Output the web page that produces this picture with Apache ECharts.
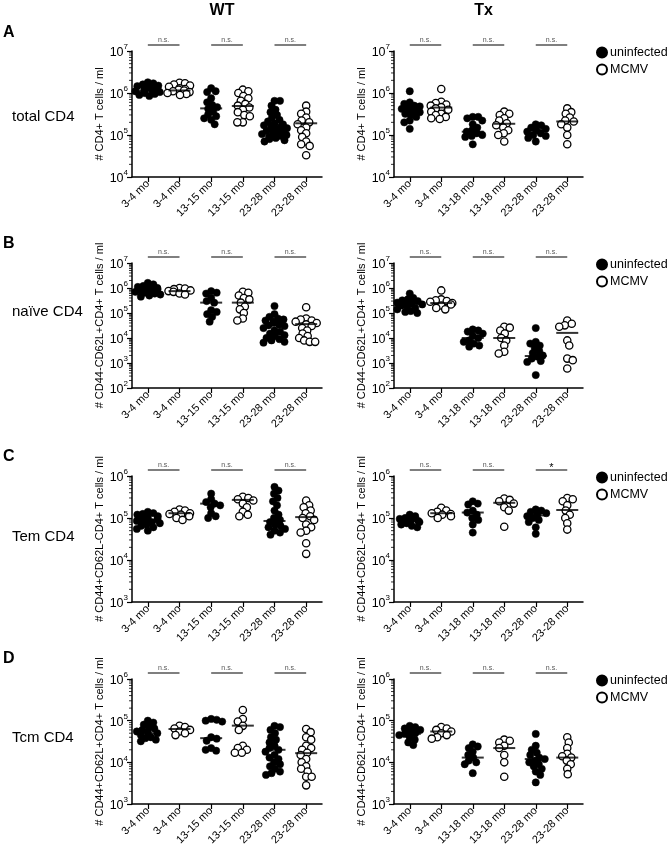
<!DOCTYPE html>
<html><head><meta charset="utf-8">
<script src="https://cdn.jsdelivr.net/npm/echarts@6/dist/echarts.min.js"></script>
<style>html,body{margin:0;padding:0;background:#fff}#c{width:670px;height:851px}</style>
</head><body><div id="c"></div><script>
// ---------- categories / labels ----------
const catsWT = ['3-4 mo','3-4 mo','13-15 mo','13-15 mo','23-28 mo','23-28 mo'];
const catsTx = ['3-4 mo','3-4 mo','13-18 mo','13-18 mo','23-28 mo','23-28 mo'];
const columnTitles = ['WT','Tx'];
const panelLetters = ['A','B','C','D'];
const rowLabels = ['total CD4','naïve CD4','Tem CD4','Tcm CD4'];
const yAxisNames = ['# CD4+ T cells / ml','# CD44-CD62L+CD4+ T cells / ml','# CD44+CD62L-CD4+ T cells / ml','# CD44+CD62L+CD4+ T cells / ml'];
const yMinExp = [4,2,3,3];
const yMaxExp = [7,7,6,6];
const sigWT = [['n.s.','n.s.','n.s.'],['n.s.','n.s.','n.s.'],['n.s.','n.s.','n.s.'],['n.s.','n.s.','n.s.']];
const sigTx = [['n.s.','n.s.','n.s.'],['n.s.','n.s.','n.s.'],['n.s.','n.s.','*'],['n.s.','n.s.','n.s.']];
const legendNames = ['uninfected','MCMV'];

// ---------- data (groups: 3-4 uninf, 3-4 MCMV, mid uninf, mid MCMV, old uninf, old MCMV) ----------
const totalWT = [
 [1.8e6,1.7e6,1.6e6,1.5e6,1.45e6,1.35e6,1.3e6,1.2e6,1.15e6,1.1e6,1.05e6,1.0e6,0.95e6,0.9e6,0.85e6],
 [1.75e6,1.7e6,1.6e6,1.5e6,1.4e6,1.3e6,1.25e6,1.2e6,1.15e6,1.1e6,1.05e6,1.0e6,0.95e6,0.9e6],
 [1.3e6,1.1e6,1.05e6,7.5e5,6e5,5.2e5,4.6e5,4.2e5,3.6e5,3.1e5,2.8e5,2.5e5,2.3e5,1.8e5],
 [1.2e6,1.1e6,1.0e6,8.5e5,7.5e5,6.5e5,5.5e5,5e5,4.5e5,4e5,3.5e5,3e5,2.8e5,2e5,2e5],
 [6.5e5,6.5e5,5e5,4e5,3.5e5,3e5,2.6e5,2.3e5,2.1e5,1.9e5,1.8e5,1.7e5,1.6e5,1.5e5,1.45e5,1.4e5,1.3e5,1.25e5,1.2e5,1.1e5,1.05e5,1e5,9.5e4,9e4,8.5e4,8e4,7.5e4,7e4],
 [5e5,3.6e5,3.2e5,2.6e5,2.2e5,2e5,1.8e5,1.5e5,1.3e5,1.1e5,9e4,7e4,6e4,5.5e4,3.3e4]
];
const totalWTMed = [1.12e6,1.15e6,4.3e5,4.9e5,1.75e5,1.9e5];
const totalTx = [
 [1.1e6,6e5,5.5e5,5e5,4.8e5,4.5e5,4.2e5,4e5,3.8e5,3.5e5,3.2e5,3e5,2.7e5,2.2e5,2e5,1.4e5],
 [1.25e6,6.2e5,5.8e5,5.3e5,5e5,4.6e5,4.3e5,4e5,3.6e5,3.2e5,3e5,2.7e5,2.5e5,2.4e5],
 [2.7e5,2.7e5,2.5e5,2.2e5,1.8e5,1.5e5,1.3e5,1.2e5,1.1e5,1.0e5,9.5e4,9e4,6e4],
 [3.6e5,3.2e5,3e5,2.5e5,2.2e5,1.9e5,1.7e5,1.5e5,1.3e5,1.1e5,1e5,7e4],
 [1.8e5,1.7e5,1.5e5,1.4e5,1.3e5,1.2e5,1.1e5,1e5,9.5e4,8.5e4,7e4],
 [4.3e5,3.5e5,3.2e5,2.6e5,2.2e5,2.1e5,1.8e5,1.5e5,1e5,6e4]
];
const totalTxMed = [4.2e5,4.5e5,1.2e5,1.85e5,1.3e5,2.1e5];
const naiveWT = [
 [1.6e6,1.4e6,1.2e6,1.1e6,1e6,9.5e5,9e5,8.5e5,8e5,7.5e5,7e5,6.5e5,6e5,5.5e5,5e5,4.5e5],
 [1e6,9.5e5,9e5,8e5,7.5e5,7e5,6e5,5.5e5],
 [7.5e5,6.5e5,6e5,4e5,3e5,2.6e5,1.3e5,1.1e5,9e4,7e4,4.5e4],
 [7e5,6.5e5,5e5,4e5,3.5e5,2.6e5,1.8e5,1.4e5,1e5,6e4,5e4],
 [1.9e5,9e4,7e4,6e4,5.5e4,5e4,4.5e4,4e4,3.5e4,3.2e4,3e4,2.5e4,2e4,1.8e4,1.5e4,1.3e4,1.2e4,1e4,9e3,8e3,7e3,6.5e3],
 [1.7e5,6e4,5.5e4,5e4,4.5e4,4e4,3.5e4,3e4,2.5e4,2e4,1.5e4,1.2e4,1e4,8e3,7e3,7e3]
];
const naiveWTMed = [8.5e5,7.5e5,2.6e5,2.6e5,3.4e4,3.6e4];
const naiveTx = [
 [6e5,4e5,3.5e5,3.2e5,3e5,2.8e5,2.6e5,2.4e5,2.2e5,2e5,1.8e5,1.6e5,1.4e5,1.2e5,1.1e5,1e5],
 [8e5,3.5e5,3.2e5,3e5,2.8e5,2.5e5,2.2e5,2e5,1.6e5,1.4e5],
 [2.2e4,2e4,1.8e4,1.5e4,1.2e4,1e4,8e3,7e3,6e3,5e3,4.5e3],
 [2.8e4,2.6e4,2e4,1.5e4,1e4,8e3,5e3,2.8e3,2.4e3],
 [2.5e4,7e3,6e3,5e3,4e3,3e3,2.5e3,2e3,1.8e3,1.5e3,1.2e3,1.1e3,3.3e2],
 [5e4,3.7e4,3.2e4,2.8e4,8e3,5e3,1.5e3,1.3e3,6e2]
];
const naiveTxMed = [2.35e5,2.5e5,1e4,1e4,1.9e3,1.6e4];
const temWT = [
 [1.4e5,1.3e5,1.25e5,1.2e5,1.1e5,1e5,9.5e4,9e4,8.5e4,8e4,7.5e4,7e4,6.5e4,6e4,5.5e4,5e4],
 [1.6e5,1.5e5,1.4e5,1.3e5,1.25e5,1.2e5,1.1e5,1e5,9e4],
 [3.8e5,2.8e5,2.4e5,2.2e5,2e5,1.8e5,1.3e5,1.1e5,1e5],
 [3.2e5,3e5,2.8e5,2.6e5,2.2e5,1.8e5,1.4e5,1.2e5,1.1e5],
 [5.5e5,4.5e5,3.8e5,3e5,2.5e5,2e5,1.5e5,1.2e5,1e5,9e4,8e4,7e4,6.5e4,6e4,5.5e4,5e4,4.5e4,4e4],
 [2.6e5,2e5,1.8e5,1.5e5,1.3e5,1.1e5,1e5,9e4,7e4,6e4,5e4,4.5e4,2.5e4,1.4e4]
];
const temWTMed = [7.9e4,1.3e5,2.2e5,2.7e5,8.5e4,1.05e5];
const temTx = [
 [1.2e5,1.1e5,1e5,9.5e4,9e4,8.5e4,8e4,7.5e4,7e4,6.5e4,6e4],
 [1.75e5,1.5e5,1.4e5,1.3e5,1.25e5,1.2e5,1.1e5,1e5],
 [2.5e5,2.2e5,2.1e5,1.5e5,1.35e5,1.2e5,1e5,9e4,7e4,4.5e4],
 [2.9e5,2.7e5,2.5e5,2.2e5,1.8e5,1.5e5,6.2e4],
 [1.6e5,1.5e5,1.4e5,1.3e5,1.2e5,1.1e5,1e5,9e4,8e4,6e4,4.2e4],
 [3e5,2.8e5,2.5e5,2e5,1.5e5,1.2e5,1e5,7.5e4,5.3e4]
];
const temTxMed = [8.5e4,1.3e5,1.35e5,2.3e5,1.15e5,1.55e5];
const tcmWT = [
 [1e5,9e4,8e4,7e4,6.5e4,6e4,5.5e4,5.2e4,5e4,4.5e4,4e4,3.8e4,3.5e4,3.2e4],
 [7.5e4,7e4,6.5e4,6e4,5.5e4,5e4,4.5e4],
 [1.1e5,1.05e5,1e5,9.5e4,4e4,3.7e4,3.3e4,2.2e4,2e4,1.9e4],
 [1.8e5,1.1e5,9.5e4,7.5e4,6e4,2.5e4,2.2e4,2e4,1.7e4,1.7e4],
 [7.5e4,7e4,6e4,5e4,4e4,3.5e4,3e4,2.5e4,2.2e4,2e4,1.8e4,1.5e4,1.3e4,1.2e4,1e4,9e3,8e3,7e3,6e3,5.5e3,5e3],
 [6.3e4,5.3e4,4e4,3.5e4,2.5e4,2.2e4,2e4,1.7e4,1.5e4,1.2e4,1e4,8e3,7e3,6e3,4.5e3,4.5e3,2.8e3]
];
const tcmWTMed = [5e4,6.3e4,3.8e4,7.6e4,2e4,1.66e4];
const tcmTx = [
 [7.5e4,7e4,6.5e4,6e4,5.5e4,5e4,4.8e4,4.5e4,4e4,3.5e4,3e4,2.6e4],
 [7e4,6.5e4,6e4,5.5e4,5e4,4.5e4,4e4,3.7e4],
 [2.7e4,2.4e4,2.2e4,1.8e4,1.5e4,1.3e4,1.1e4,1e4,9e3,5.5e3],
 [3.5e4,3.3e4,3e4,2.5e4,2.2e4,1.5e4,1e4,4.5e3],
 [4.8e4,2.5e4,2e4,1.7e4,1.5e4,1.3e4,1.2e4,1.1e4,1e4,9e3,8e3,7e3,6e3,5e3,3.3e3],
 [4e4,3e4,2.2e4,1.6e4,1.4e4,1.3e4,1.1e4,9e3,7e3,5.2e3]
];
const tcmTxMed = [4.8e4,5.5e4,1.3e4,2.2e4,1.2e4,1.3e4];

// ---------- assembly ----------
const panels = [
  {row:0,col:0,data:totalWT,med:totalWTMed,cats:catsWT,sig:sigWT[0]},
  {row:0,col:1,data:totalTx,med:totalTxMed,cats:catsTx,sig:sigTx[0]},
  {row:1,col:0,data:naiveWT,med:naiveWTMed,cats:catsWT,sig:sigWT[1]},
  {row:1,col:1,data:naiveTx,med:naiveTxMed,cats:catsTx,sig:sigTx[1]},
  {row:2,col:0,data:temWT,med:temWTMed,cats:catsWT,sig:sigWT[2]},
  {row:2,col:1,data:temTx,med:temTxMed,cats:catsTx,sig:sigTx[2]},
  {row:3,col:0,data:tcmWT,med:tcmWTMed,cats:catsWT,sig:sigWT[3]},
  {row:3,col:1,data:tcmTx,med:tcmTxMed,cats:catsTx,sig:sigTx[3]}
];
const FONT = '"Liberation Sans", Arial, Helvetica, sans-serif';
const gridLeft = [132, 394];
const gridWidth = [190, 189];
const gridTop = [51, 263, 476, 679];
const gridH = [126, 125, 126, 125];
const DIAM = 7.3;
const SEP = 5.4;     // collision distance used for horizontal spreading
const MAXOFF = 12.5; // max horizontal spread from centre

// beeswarm horizontal offsets (pixels) so points don't pile up
function swarm(values, pxPerDec) {
  const ys = values.map(v => Math.log10(v) * pxPerDec);
  const order = ys.map((_, i) => i).sort((a, b) => ys[b] - ys[a]);
  const placed = [];
  const offs = new Array(values.length).fill(0);
  order.forEach((i, n) => {
    const y = ys[i];
    let chosen = null;
    for (let k = 0; k < 200; k++) {
      const step = Math.ceil(k / 2) * 0.5;
      const sgn = ((k + n) % 2 === 0) ? 1 : -1;
      const x = k === 0 ? 0 : sgn * step;
      if (Math.abs(x) > MAXOFF) break;
      let ok = true;
      for (const p of placed) {
        const dx = x - p[0], dy = y - p[1];
        if (dx * dx + dy * dy < SEP * SEP) { ok = false; break; }
      }
      if (ok) { chosen = x; break; }
    }
    if (chosen === null) chosen = (n % 2 ? -1 : 1) * (n * 3.7 % MAXOFF);
    placed.push([chosen, y]);
    offs[i] = chosen;
  });
  return offs;
}

function yLabel(v) {
  const e = Math.round(Math.log10(v));
  return '{a|10}{b|' + e + '}';
}

const grids = [], xAxes = [], yAxes = [], series = [], graphics = [], legends = [];
panels.forEach((p, gi) => {
  const L = gridLeft[p.col], W = gridWidth[p.col], T = gridTop[p.row], H = gridH[p.row];
  const minE = yMinExp[p.row], maxE = yMaxExp[p.row];
  grids.push({left: L, top: T, width: W, height: H, containLabel: false, outerBoundsMode: 'none'});
  xAxes.push({
    type: 'category', gridIndex: gi, data: p.cats, boundaryGap: true,
    axisLine: {lineStyle: {color: '#000', width: 1.5}},
    axisTick: {show: true, alignWithLabel: true, length: 5, lineStyle: {color: '#000', width: 1.2}},
    axisLabel: {interval: 0, rotate: 45, color: '#000', fontFamily: FONT, fontSize: 11, margin: 5},
    splitLine: {show: false}
  });
  yAxes.push({
    type: 'log', logBase: 10, gridIndex: gi, min: Math.pow(10, minE), max: Math.pow(10, maxE),
    splitNumber: maxE - minE,
    name: yAxisNames[p.row], nameLocation: 'middle', nameGap: 27, nameRotate: 90,
    nameTextStyle: {color: '#000', fontFamily: FONT, fontSize: 11},
    axisLine: {show: true, lineStyle: {color: '#000', width: 1.5}},
    axisTick: {show: true, length: 5, lineStyle: {color: '#000', width: 1.2}},
    minorTick: {show: false},
    splitLine: {show: false},
    axisLabel: {
      color: '#000', margin: 4, fontFamily: FONT, formatter: yLabel,
      rich: {
        a: {fontSize: 12.5, fontFamily: FONT, color: '#000', verticalAlign: 'bottom', lineHeight: 16},
        b: {fontSize: 8, fontFamily: FONT, color: '#000', verticalAlign: 'top', lineHeight: 16}
      }
    }
  });
  const pxPerDec = H / (maxE - minE);
  const unin = [], mcmv = [];
  p.data.forEach((vals, ci) => {
    const offs = swarm(vals, pxPerDec);
    vals.forEach((v, k) => {
      const item = {value: [ci, v], symbolOffset: [offs[k], 0]};
      (ci % 2 === 0 ? unin : mcmv).push(item);
    });
  });
  series.push({
    name: legendNames[0], type: 'scatter', xAxisIndex: gi, yAxisIndex: gi,
    symbol: 'circle', symbolSize: DIAM, data: unin, z: 3,
    itemStyle: {color: '#000', borderColor: '#000', borderWidth: 0.5, opacity: 1}
  });
  series.push({
    name: legendNames[1], type: 'scatter', xAxisIndex: gi, yAxisIndex: gi,
    symbol: 'circle', symbolSize: DIAM, data: mcmv, z: 3,
    itemStyle: {color: '#fff', borderColor: '#000', borderWidth: 1.3, opacity: 1}
  });
  series.push({
    type: 'scatter', xAxisIndex: gi, yAxisIndex: gi, symbol: 'rect', symbolSize: [22, 2],
    data: p.med.map((m, ci) => [ci, m]), z: 5, silent: true,
    itemStyle: {color: '#000'}
  });
  // minor ticks (log 2..9 within each decade)
  const minor = [];
  for (let e = minE; e < maxE; e++) for (let m = 2; m <= 9; m++) minor.push([0, m * Math.pow(10, e)]);
  series.push({
    type: 'custom', xAxisIndex: gi, yAxisIndex: gi, data: minor, silent: true, clip: false,
    renderItem: (params, api) => {
      const pt = api.coord([0, api.value(1)]);
      const cs = params.coordSys;
      return {type: 'line', shape: {x1: cs.x - 3, y1: pt[1], x2: cs.x, y2: pt[1]},
              style: {stroke: '#000', lineWidth: 0.8}};
    }
  });
  // significance bars
  const band = W / 6;
  p.sig.forEach((s, k) => {
    const x1 = L + band * (2 * k + 0.5), x2 = L + band * (2 * k + 1.5);
    const ly = T - 6;
    graphics.push({type: 'line', shape: {x1: x1, y1: ly, x2: x2, y2: ly}, style: {stroke: '#555', lineWidth: 1.5}, silent: true});
    const star = s === '*';
    graphics.push({type: 'text', x: (x1 + x2) / 2, y: star ? ly + 3 : ly - 1,
      style: {text: s, fill: star ? '#000' : '#555', font: (star ? '11px ' : '7px ') + FONT, textAlign: 'center', textVerticalAlign: 'bottom'}, silent: true});
  });
  if (p.col === 1) {
    legends.push({
      data: legendNames, orient: 'vertical', left: 596, top: T - 5, itemWidth: 10, itemHeight: 10,
      itemGap: 4, icon: 'circle', selectedMode: false, padding: 0,
      textStyle: {color: '#000', fontFamily: FONT, fontSize: 12.5, padding: [0, 0, 0, -2]}
    });
  }
});

// titles, letters, row labels
columnTitles.forEach((t, i) => {
  graphics.push({type: 'text', x: gridLeft[i] + gridWidth[i] / 2 - 5, y: 11,
    style: {text: t, fill: '#000', font: 'bold 16px ' + FONT, textAlign: 'center', textVerticalAlign: 'middle'}});
});
const letterY = [33, 244, 457, 659];
const rowLabelY = [117, 312, 537, 738];
panelLetters.forEach((t, i) => {
  graphics.push({type: 'text', x: 3, y: letterY[i],
    style: {text: t, fill: '#000', font: 'bold 16px ' + FONT, textAlign: 'left', textVerticalAlign: 'middle'}});
  graphics.push({type: 'text', x: 12, y: rowLabelY[i],
    style: {text: rowLabels[i], fill: '#000', font: '15px ' + FONT, textAlign: 'left', textVerticalAlign: 'middle'}});
});

const chart = echarts.init(document.getElementById('c'), null, {renderer: 'canvas'});
chart.setOption({
  animation: false,
  backgroundColor: '#fff',
  grid: grids, xAxis: xAxes, yAxis: yAxes, series: series,
  legend: legends, graphic: graphics
});
</script></body></html>
